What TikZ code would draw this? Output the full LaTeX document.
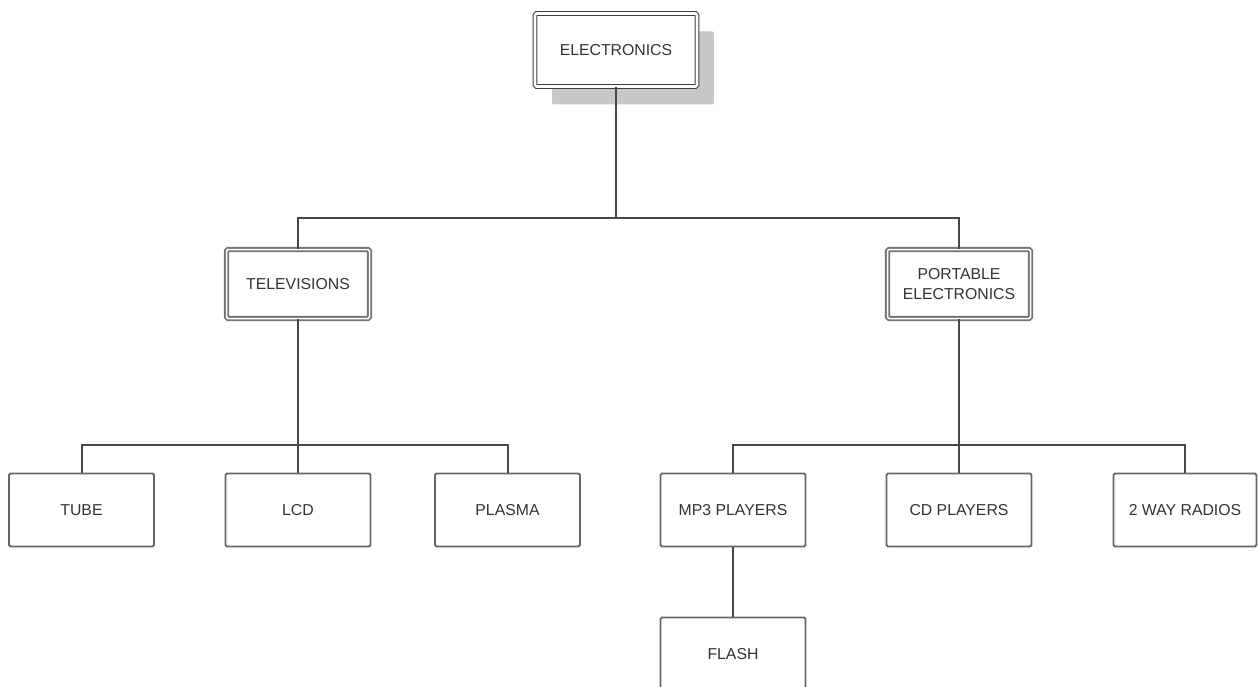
\documentclass[tikz,border=0pt]{standalone}
\usepackage{fontspec}
\setmainfont{Liberation Sans}
\usepackage{tikz}
\usetikzlibrary{shadows}
\definecolor{shadowgray}{RGB}{200,200,200}
\tikzset{
 topbox/.style={draw=black!75, line width=1.1pt, double=white, double distance=2.6pt,
    rectangle, rounded corners=1.5pt, fill=white, minimum width=162pt, minimum height=73pt,
    general shadow={fill=shadowgray, shadow xshift=17pt, shadow yshift=-18pt, sharp corners}},
 groupbox/.style={draw=black!55, line width=1.8pt, double=white, double distance=1.5pt,
    rectangle, rounded corners=1.5pt, fill=white, minimum width=143pt, minimum height=69pt, align=center}
}

\begin{document}
\begin{tikzpicture}[x=1pt, y=-1pt, font=\fontsize{15.8}{20}\selectfont, text=black!80]
\tikzstyle{leaf}=[rectangle, rounded corners=1.5pt, draw=black!60, line width=1.9pt, fill=white, minimum width=145pt, minimum height=73pt]
\tikzstyle{link}=[draw=black!72, line width=2pt]
\useasboundingbox (0,0) rectangle (1258,687);
% 2. Nodes
%%%%%%%%%%
\node[topbox] (elec) at (616,50) {ELECTRONICS};

\node[groupbox] (tv) at (298,284) {TELEVISIONS};
\node[groupbox] (port) at (959,284) {PORTABLE\\ELECTRONICS};

\node[leaf] (tube) at (81.5,510) {TUBE};
\node[leaf] (lcd) at (298,510) {LCD};
\node[leaf] (plasma) at (507.5,510) {PLASMA};
\node[leaf] (mp3) at (733,510) {MP3 PLAYERS};
\node[leaf] (cd) at (959,510) {CD PLAYERS};
\node[leaf, minimum width=143pt] (radios) at (1185,510) {2 WAY RADIOS};
\node[leaf] (flash) at (733,654) {FLASH};

\coordinate (bus1) at (616,218);
\coordinate (bus2) at (298,445);
\coordinate (bus3) at (959,445);
% 3. Lines
%%%%%%%%%%
\path[link] (elec.south) -- (bus1)
      (tv.north) |- (bus1) -| (port.north)
      (tv.south) -- (lcd.north)
      (tube.north) |- (bus2) -| (plasma.north)
      (port.south) -- (cd.north)
      (mp3.north) |- (bus3) -| (radios.north)
      (mp3.south) -- (flash.north);

\end{tikzpicture}
\end{document}
